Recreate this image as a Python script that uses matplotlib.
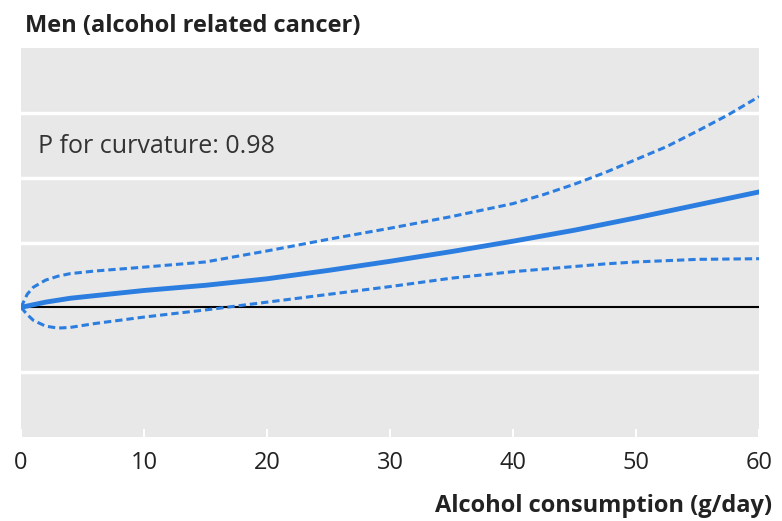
import matplotlib.pyplot as plt

# alcohol intake (g/day) and the fitted dose-response curve with its confidence band
alkohol = [0, 2, 4, 6, 8, 10, 15, 20, 25, 30, 35, 40, 45, 50, 55, 60]
kurve = [0, 0.08, 0.14, 0.18, 0.22, 0.26, 0.34, 0.44, 0.57, 0.71, 0.86, 1.02, 1.19, 1.38, 1.58, 1.78]

alkohol_ki = [0, 0.5, 1, 2, 3, 4, 6, 8, 10, 15, 20, 25, 30, 35, 40, 42.5, 45, 47.5, 50, 52.5, 55, 57.5, 60]
ovre = [0, 0.20, 0.31, 0.42, 0.48, 0.52, 0.56, 0.59, 0.62, 0.70, 0.87, 1.05, 1.22, 1.40, 1.60,
        1.74, 1.90, 2.08, 2.28, 2.48, 2.72, 2.97, 3.25]
nedre = [0, -0.11, -0.20, -0.29, -0.32, -0.31, -0.25, -0.20, -0.15, -0.04, 0.08, 0.20, 0.32, 0.45, 0.55,
         0.59, 0.63, 0.67, 0.70, 0.72, 0.74, 0.745, 0.75]

xticks = [0, 10, 20, 30, 40, 50, 60]
grid_y = [-1, 1, 2, 3]

plt.rcParams['font.family'] = ['Open Sans', 'DejaVu Sans']
blaa = '#2b7de0'

fig = plt.figure(figsize=(7.82, 5.21), dpi=100)
ax = fig.add_axes([21/782, 84/521, 738/782, 389/521])
ax.set_facecolor('#e8e8e8')

# hvite rutenettlinjer og svart referanselinje
for g in grid_y:
    ax.axhline(g, color='white', lw=2.5, zorder=1)
ax.axhline(0, color='black', lw=1.5, zorder=2)

ax.plot(alkohol_ki, ovre, '--', color=blaa, lw=2.2, dashes=(2.4, 1.3), zorder=3)
ax.plot(alkohol_ki, nedre, '--', color=blaa, lw=2.2, dashes=(2.4, 1.3), zorder=3)
ax.plot(alkohol, kurve, '-', color=blaa, lw=3.5, zorder=4)

ax.set_xlim(0, 60)
ax.set_ylim(-2, 4)
ax.set_yticks([])
ax.set_xticks(xticks)
ax.tick_params(axis='x', direction='in', color='white', length=6, width=1.5,
               labelsize=17, pad=10, labelcolor='#222222')
for s in ax.spines.values():
    s.set_visible(False)

ax.text(1.4, 2.48, 'P for curvature: 0.98', fontsize=18, color='#333333', va='center')

fig.text(25/782, 1 - 26/521, 'Men (alcohol related cancer)', fontsize=17, fontweight='bold',
         color='#222222', va='center', ha='left')
fig.text(772/782, 1 - 506/521, 'Alcohol consumption (g/day)', fontsize=17, fontweight='bold',
         color='#222222', va='center', ha='right')

fig.savefig('out.png', dpi=100)
